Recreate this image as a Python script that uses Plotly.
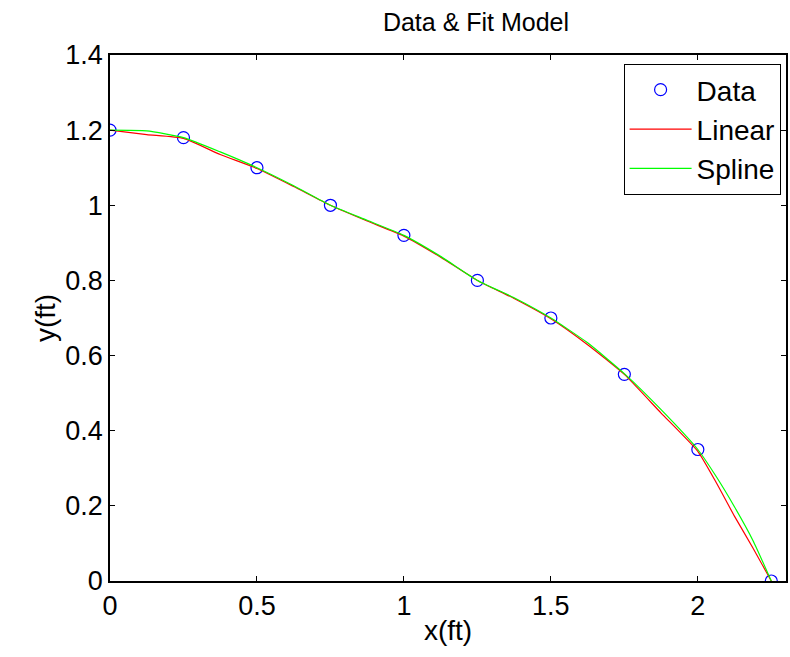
import plotly.graph_objects as go

# Measured points
x_data = [0, 0.25, 0.5, 0.75, 1.0, 1.25, 1.5, 1.75, 2.0, 2.25]
y_data = [1.2, 1.18, 1.1, 1.0, 0.92, 0.8, 0.7, 0.55, 0.35, 0.0]

# Fitted models evaluated on a finer grid
x_fit = [0, 0.125, 0.25, 0.375, 0.5, 0.625, 0.75, 0.875, 1.0, 1.125, 1.25,
         1.375, 1.5, 1.625, 1.75, 1.875, 2.0, 2.0625, 2.125, 2.1875, 2.25]
y_linear = [1.2, 1.188, 1.178, 1.135, 1.098, 1.05, 1.0, 0.958, 0.918, 0.862, 0.8,
            0.752, 0.698, 0.629, 0.55, 0.447, 0.345, 0.262, 0.172, 0.088, 0.0]
y_spline = [1.2, 1.198, 1.18, 1.142, 1.1, 1.052, 1.0, 0.96, 0.92, 0.864, 0.8,
            0.754, 0.7, 0.634, 0.552, 0.456, 0.35, 0.278, 0.197, 0.108, 0.0]

FONT = "Liberation Sans Narrow, Liberation Sans, Arial, sans-serif"

fig = go.Figure()
fig.add_trace(go.Scatter(x=x_data, y=y_data, mode="markers", name="Data",
                         marker=dict(symbol="circle-open", size=12, color="#0000ff",
                                     line=dict(width=1.2))))
fig.add_trace(go.Scatter(x=x_fit, y=y_linear, mode="lines", name="Linear",
                         line=dict(color="#ff0000", width=1.2, shape="spline", smoothing=0.5)))
fig.add_trace(go.Scatter(x=x_fit, y=y_spline, mode="lines", name="Spline",
                         line=dict(color="#00ff00", width=1.2, shape="spline", smoothing=0.5)))

axis_common = dict(showgrid=False, zeroline=False, showline=True, linecolor="black",
                   linewidth=1.5, mirror="ticks", ticks="inside", ticklen=5,
                   tickcolor="black", tickfont=dict(family=FONT, size=27, color="black"))

fig.update_xaxes(range=[0, 2.3], tickvals=[0, 0.5, 1, 1.5, 2],
                 title=dict(text="x(ft)", font=dict(family=FONT, size=28, color="black"),
                            standoff=0),
                 **axis_common)
fig.update_yaxes(range=[0, 1.4], tickvals=[0, 0.2, 0.4, 0.6, 0.8, 1, 1.2, 1.4],
                 title=dict(text="y(ft)", font=dict(family=FONT, size=28, color="black"),
                            standoff=2),
                 **axis_common)

fig.update_layout(
    width=790, height=657,
    margin=dict(l=110, r=2, t=55, b=76),
    paper_bgcolor="white", plot_bgcolor="white",
    title=dict(text="Data & Fit Model", x=0.6025, xanchor="center", y=0.966, yanchor="middle",
               font=dict(family=FONT, size=25, color="black")),
    legend=dict(x=0.992, y=0.983, xanchor="right", yanchor="top",
                bgcolor="white", bordercolor="black", borderwidth=1,
                font=dict(family=FONT, size=28, color="black"),
                itemwidth=62, tracegroupgap=0),
    showlegend=True,
)

fig.write_html("out.html")
